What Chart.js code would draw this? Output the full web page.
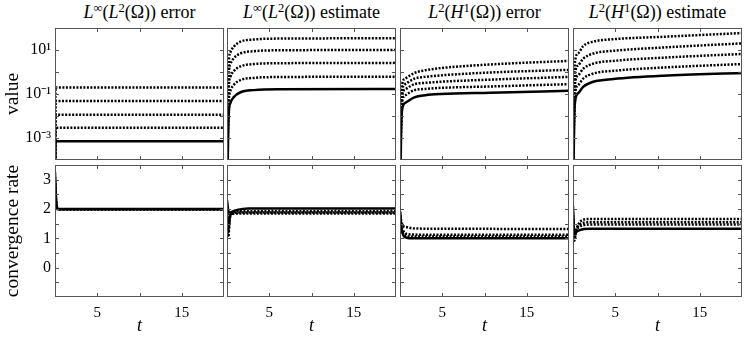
<!DOCTYPE html>
<html>
<head>
<meta charset="utf-8">
<script src="https://cdn.jsdelivr.net/npm/chart.js@4.4.1/dist/chart.umd.min.js"></script>
<style>
  body { margin: 0; background: #fff; width: 747px; height: 337px; position: relative; overflow: hidden; font-family: 'Liberation Serif', serif; }
  .panel { position: absolute; }
  .title { position: absolute; top: 0; height: 24px; line-height: 24px; font-size: 18px; text-align: center; white-space: nowrap; color: #000; }
  .title sup { font-size: 0.7em; position: relative; top: -0.5em; vertical-align: baseline; line-height: 0; }
</style>
</head>
<body>
<div class="title" style="left:55px;width:169px"><i>L</i><sup>∞</sup>(<i>L</i><sup>2</sup>(Ω)) error</div>
<div class="title" style="left:227px;width:169px"><i>L</i><sup>∞</sup>(<i>L</i><sup>2</sup>(Ω)) estimate</div>
<div class="title" style="left:400px;width:169px"><i>L</i><sup>2</sup>(<i>H</i><sup>1</sup>(Ω)) error</div>
<div class="title" style="left:573px;width:169px"><i>L</i><sup>2</sup>(<i>H</i><sup>1</sup>(Ω)) estimate</div>
<script>
// axis ticks
const xTicks = [0, 5, 10, 15, 20];
const xTickLabels = ['', '5', '', '15', ''];
const valueTicks = [1e-4, 1e-3, 1e-2, 1e-1, 1, 10, 100];
const valueTickLabels = ['', '10⁻³', '', '10⁻¹', '', '10¹', ''];
const rateTicks = [-1, -0.5, 0, 0.5, 1, 1.5, 2, 2.5, 3, 3.5];
const rateTickLabels = ['', '', '0', '', '1', '', '2', '', '3', ''];

// top row: values, four dotted (coarse -> fine), last one solid (finest)
const linfErrTime = [0.001, 0.06, 20];
const linfErrSeries = [
  [1e-5, 0.2, 0.2],
  [1e-5, 0.048, 0.048],
  [1e-5, 0.0115, 0.0115],
  [1e-6, 0.0029, 0.0029],
  [1e-6, 0.00072, 0.00072]
];
const linfEstTime = [0.001, 0.2, 0.4, 0.8, 1.6, 3.2, 6, 20];
const linfEstSeries = [
  [1e-5, 2.2, 7.8, 14, 24, 30, 33, 34],
  [1e-5, 0.65, 2.3, 4.2, 7, 8.8, 9.7, 10],
  [1e-5, 0.17, 0.6, 1.1, 1.8, 2.3, 2.5, 2.6],
  [1e-5, 0.04, 0.14, 0.26, 0.43, 0.54, 0.59, 0.61],
  [1e-6, 0.011, 0.039, 0.072, 0.12, 0.15, 0.165, 0.17]
];
const h1ErrTime = [0.001, 0.2, 0.6, 1.7, 3, 4.8, 10.7, 20];
const h1ErrSeries = [
  [1e-5, 0.18, 0.5, 0.9, 1.2, 1.5, 2.2, 3.2],
  [1e-5, 0.1, 0.28, 0.5, 0.6, 0.7, 0.95, 1.25],
  [1e-5, 0.056, 0.16, 0.28, 0.32, 0.36, 0.45, 0.6],
  [1e-5, 0.03, 0.085, 0.15, 0.17, 0.19, 0.22, 0.28],
  [1e-6, 0.014, 0.039, 0.07, 0.088, 0.1, 0.115, 0.14]
];
const h1EstTime = [0.001, 0.2, 0.6, 1.2, 2.4, 4.8, 10.7, 20];
const h1EstSeries = [
  [1e-5, 2.2, 7, 15, 24, 31, 40, 59],
  [1e-5, 0.6, 2.0, 4.0, 6.9, 9.2, 13, 20],
  [1e-5, 0.21, 0.7, 1.4, 2.4, 3.2, 4.5, 6.6],
  [1e-5, 0.075, 0.25, 0.5, 0.85, 1.13, 1.6, 2.3],
  [1e-6, 0.032, 0.107, 0.21, 0.36, 0.48, 0.68, 0.9]
];

// bottom row: convergence rates, dotted first, solid last
const linfErrRateTime = [0.001, 0.1, 0.25, 0.4, 20];
const linfErrRateSeries = [
  [3.1, 2.4, 2.02, 1.99, 1.99],
  [3.0, 2.3, 2.0, 1.98, 1.98],
  [2.9, 2.2, 2.0, 1.99, 1.99],
  [3.25, 2.5, 2.05, 2.0, 2.0]
];
const linfEstRateTime = [0.001, 0.15, 0.35, 0.7, 1.2, 2.5, 20];
const linfEstRateSeries = [
  [2.2, 1.05, 1.7, 1.88, 1.92, 1.92, 1.92],
  [2.1, 1.2, 1.75, 1.85, 1.88, 1.88, 1.88],
  [2.0, 1.35, 1.78, 1.84, 1.85, 1.85, 1.85],
  [2.3, 1.95, 1.88, 1.92, 1.97, 2.02, 2.02]
];
const h1ErrRateTime = [0.001, 0.15, 0.4, 0.8, 1.5, 3, 20];
const h1ErrRateSeries = [
  [1.9, 1.6, 1.42, 1.38, 1.34, 1.33, 1.32],
  [1.85, 1.45, 1.25, 1.15, 1.13, 1.12, 1.12],
  [1.8, 1.35, 1.15, 1.08, 1.06, 1.06, 1.06],
  [1.92, 1.4, 1.1, 1.02, 1.0, 1.0, 1.0]
];
const h1EstRateTime = [0.001, 0.15, 0.4, 0.8, 1.3, 2, 3, 20];
const h1EstRateSeries = [
  [1.9, 0.92, 1.3, 1.55, 1.64, 1.66, 1.66, 1.66],
  [1.8, 1.0, 1.3, 1.47, 1.53, 1.55, 1.55, 1.55],
  [1.7, 1.05, 1.28, 1.4, 1.45, 1.47, 1.47, 1.47],
  [2.1, 1.15, 1.22, 1.28, 1.32, 1.33, 1.33, 1.33]
];

const panelLeft = [55, 227, 400, 573];
const panelWidth = 169;
const panelTop = [28, 165];
const panelHeight = 132;
const pad = 3;
const font = 'Liberation Serif';

// frame and inward ticks on all four sides
const frame = {
  id: 'frame',
  afterDatasetsDraw(chart) {
    const { ctx, chartArea: a } = chart;
    const x = chart.scales.x, y = chart.scales.y;
    ctx.save();
    ctx.strokeStyle = '#555';
    ctx.lineWidth = 1;
    ctx.strokeRect(a.left + 0.5, a.top + 0.5, a.right - a.left - 1, a.bottom - a.top - 1);
    ctx.beginPath();
    x.ticks.forEach(t => {
      if (t.value <= x.min || t.value >= x.max) return;
      const px = Math.round(x.getPixelForValue(t.value)) + 0.5;
      ctx.moveTo(px, a.bottom); ctx.lineTo(px, a.bottom - 4);
      ctx.moveTo(px, a.top); ctx.lineTo(px, a.top + 4);
    });
    y.ticks.forEach(t => {
      if (t.value <= y.min || t.value >= y.max) return;
      const py = Math.round(y.getPixelForValue(t.value)) + 0.5;
      ctx.moveTo(a.left, py); ctx.lineTo(a.left + 4, py);
      ctx.moveTo(a.right, py); ctx.lineTo(a.right - 4, py);
    });
    ctx.stroke();
    ctx.restore();
  }
};

function noPadding(s) {
  s.paddingLeft = 0; s.paddingRight = 0; s.paddingTop = 0; s.paddingBottom = 0;
}

function makePanel(row, col, time, series) {
  const first = col === 0;
  const bottom = row === 1;
  const div = document.createElement('div');
  div.className = 'panel';
  const left = first ? 0 : panelLeft[col] - pad;
  const width = first ? panelLeft[0] + panelWidth + pad : panelWidth + 2 * pad;
  const top = panelTop[row] - pad;
  const height = pad + panelHeight + (bottom ? 40 : pad);
  div.style.left = left + 'px';
  div.style.top = top + 'px';
  const canvas = document.createElement('canvas');
  canvas.width = width;
  canvas.height = height;
  div.appendChild(canvas);
  document.body.appendChild(div);

  const yTicks = bottom ? rateTicks : valueTicks;
  const yLabels = bottom ? rateTickLabels : valueTickLabels;

  const datasets = series.map((vals, i) => {
    const solid = i === series.length - 1;
    return {
      data: time.map((t, k) => ({ x: t, y: vals[k] })),
      borderColor: '#000',
      borderWidth: 2.5,
      borderDash: solid ? [] : [2, 1.5],
      pointRadius: 0,
      cubicInterpolationMode: 'monotone',
      clip: 0
    };
  });

  new Chart(canvas, {
    type: 'line',
    data: { datasets },
    options: {
      responsive: false,
      animation: false,
      events: [],
      layout: { padding: { left: first ? 0 : pad, right: pad, top: pad, bottom: bottom ? 0 : pad } },
      plugins: { legend: { display: false }, tooltip: { enabled: false } },
      scales: {
        x: {
          type: 'linear',
          min: 0,
          max: 20,
          grid: { display: false, drawTicks: false },
          border: { display: false },
          afterBuildTicks: s => { s.ticks = xTicks.map(v => ({ value: v })); },
          afterFit: s => { s.height = bottom ? 40 : 0; noPadding(s); },
          ticks: {
            display: bottom,
            padding: 7,
            maxRotation: 0,
            autoSkip: false,
            color: '#000',
            font: { family: font, size: 15 },
            callback: v => xTickLabels[xTicks.indexOf(v)] || ''
          },
          title: {
            display: bottom,
            text: 't',
            color: '#000',
            padding: { top: 0, bottom: 0 },
            font: { family: font, size: 18, style: 'italic' }
          }
        },
        y: {
          type: bottom ? 'linear' : 'logarithmic',
          min: bottom ? -1 : 1e-4,
          max: bottom ? 3.5 : 100,
          grid: { display: false, drawTicks: false },
          border: { display: false },
          afterBuildTicks: s => { s.ticks = yTicks.map(v => ({ value: v })); },
          afterFit: s => { s.width = first ? panelLeft[0] : 0; noPadding(s); },
          ticks: {
            display: first,
            padding: 4,
            autoSkip: false,
            color: '#000',
            font: { family: font, size: 16 },
            callback: v => {
              const i = yTicks.findIndex(t => Math.abs(t - v) < 1e-9 * Math.max(1, Math.abs(t)) || (t > 0 && Math.abs(Math.log10(t) - Math.log10(v)) < 1e-6));
              return i >= 0 ? yLabels[i] : '';
            }
          },
          title: {
            display: first,
            text: bottom ? 'convergence rate' : 'value',
            color: '#000',
            padding: { top: 1, bottom: 0 },
            font: { family: font, size: 19.5 }
          }
        }
      }
    },
    plugins: [frame]
  });
}

makePanel(0, 0, linfErrTime, linfErrSeries);
makePanel(0, 1, linfEstTime, linfEstSeries);
makePanel(0, 2, h1ErrTime, h1ErrSeries);
makePanel(0, 3, h1EstTime, h1EstSeries);
makePanel(1, 0, linfErrRateTime, linfErrRateSeries);
makePanel(1, 1, linfEstRateTime, linfEstRateSeries);
makePanel(1, 2, h1ErrRateTime, h1ErrRateSeries);
makePanel(1, 3, h1EstRateTime, h1EstRateSeries);
</script>
</body>
</html>
